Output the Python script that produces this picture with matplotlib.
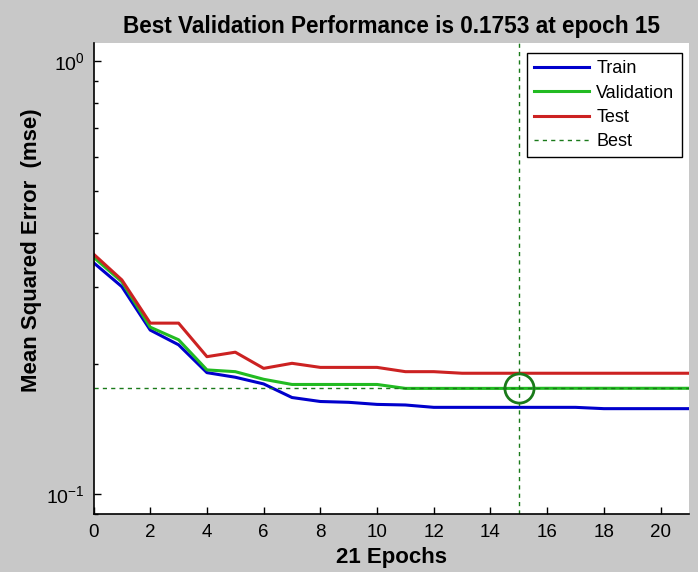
import matplotlib
matplotlib.use("Agg")
import matplotlib.pyplot as plt
from matplotlib.ticker import LogLocator, NullFormatter

plt.rcParams['font.family'] = ['Liberation Sans', 'DejaVu Sans']
plt.rcParams['mathtext.fontset'] = 'custom'
plt.rcParams['mathtext.rm'] = 'Liberation Sans'
plt.rcParams['mathtext.it'] = 'Liberation Sans:italic'
plt.rcParams['mathtext.bf'] = 'Liberation Sans:bold'

# Training record: mean squared error per epoch
epochs = list(range(0, 22))
train = [0.342, 0.301, 0.239, 0.221, 0.1906, 0.186, 0.1795, 0.167, 0.1635,
         0.1628, 0.161, 0.1605, 0.1585, 0.1585, 0.1585, 0.1585, 0.1585,
         0.1585, 0.1574, 0.1574, 0.1574, 0.1574]
validation = [0.352, 0.309, 0.2427, 0.227, 0.1934, 0.1916, 0.184, 0.179,
              0.179, 0.179, 0.179, 0.1753, 0.1753, 0.1753, 0.1753, 0.1753,
              0.1754, 0.1754, 0.1754, 0.1754, 0.1754, 0.1754]
test = [0.358, 0.312, 0.248, 0.248, 0.2075, 0.2125, 0.195, 0.2003, 0.196,
        0.196, 0.196, 0.1916, 0.1916, 0.190, 0.190, 0.190, 0.190, 0.190,
        0.190, 0.190, 0.190, 0.190]
best_epoch = 15
best_perf = 0.1753
xticks = list(range(0, 21, 2))

fig = plt.figure(figsize=(6.98, 5.72), dpi=100, facecolor='#c8c8c8')
ax = fig.add_axes([0.134, 0.101, 0.853, 0.824])
ax.set_facecolor('white')

ax.plot(epochs, train, color='#0000cc', lw=2.2, label='Train')
ax.plot(epochs, validation, color='#22bb22', lw=2.2, label='Validation')
ax.plot(epochs, test, color='#cc2222', lw=2.2, label='Test')
ax.axhline(best_perf, color='#1a7a1a', lw=1.0, ls=(0, (3, 3)), label='Best')
ax.axvline(best_epoch, color='#1a7a1a', lw=1.0, ls=(0, (3, 3)))
ax.plot([best_epoch], [best_perf], 'o', ms=21, mfc='none', mec='#1a7a1a', mew=2.0)

ax.set_yscale('log')
ax.set_xlim(0, 21)
ax.set_ylim(0.0898, 1.10)
ax.set_xticks(xticks)
ax.yaxis.set_minor_locator(LogLocator(base=10, subs=range(2, 10)))
ax.yaxis.set_minor_formatter(NullFormatter())

for side in ('top', 'right'):
    ax.spines[side].set_visible(False)
for side in ('left', 'bottom'):
    ax.spines[side].set_linewidth(1.2)
ax.tick_params(which='major', direction='in', length=5, width=1)
ax.tick_params(which='minor', direction='in', length=3, width=1)
ax.tick_params(axis='y', labelsize=14, pad=6)
ax.tick_params(axis='x', pad=7)
for lbl in ax.get_xticklabels():
    lbl.set_family(['Liberation Sans Narrow', 'Liberation Sans'])
    lbl.set_fontsize(13.5)

ax.set_title('Best Validation Performance is 0.1753 at epoch 15',
             fontsize=16.3, fontweight='bold', pad=7)
ax.set_xlabel('21 Epochs', fontsize=16, fontweight='bold', labelpad=4)
ax.set_ylabel('Mean Squared Error  (mse)', fontsize=16, fontweight='bold')
ax.yaxis.set_label_coords(-0.086, 0.56)

leg = ax.legend(loc='upper right', bbox_to_anchor=(0.9877, 0.978), fontsize=13,
                frameon=True, fancybox=False, edgecolor='black', framealpha=1,
                handlelength=3.05, handletextpad=0.4, borderpad=0.4,
                labelspacing=0.4, borderaxespad=0)
leg.get_frame().set_linewidth(1.0)

fig.savefig('out.png', dpi=100, facecolor=fig.get_facecolor())
